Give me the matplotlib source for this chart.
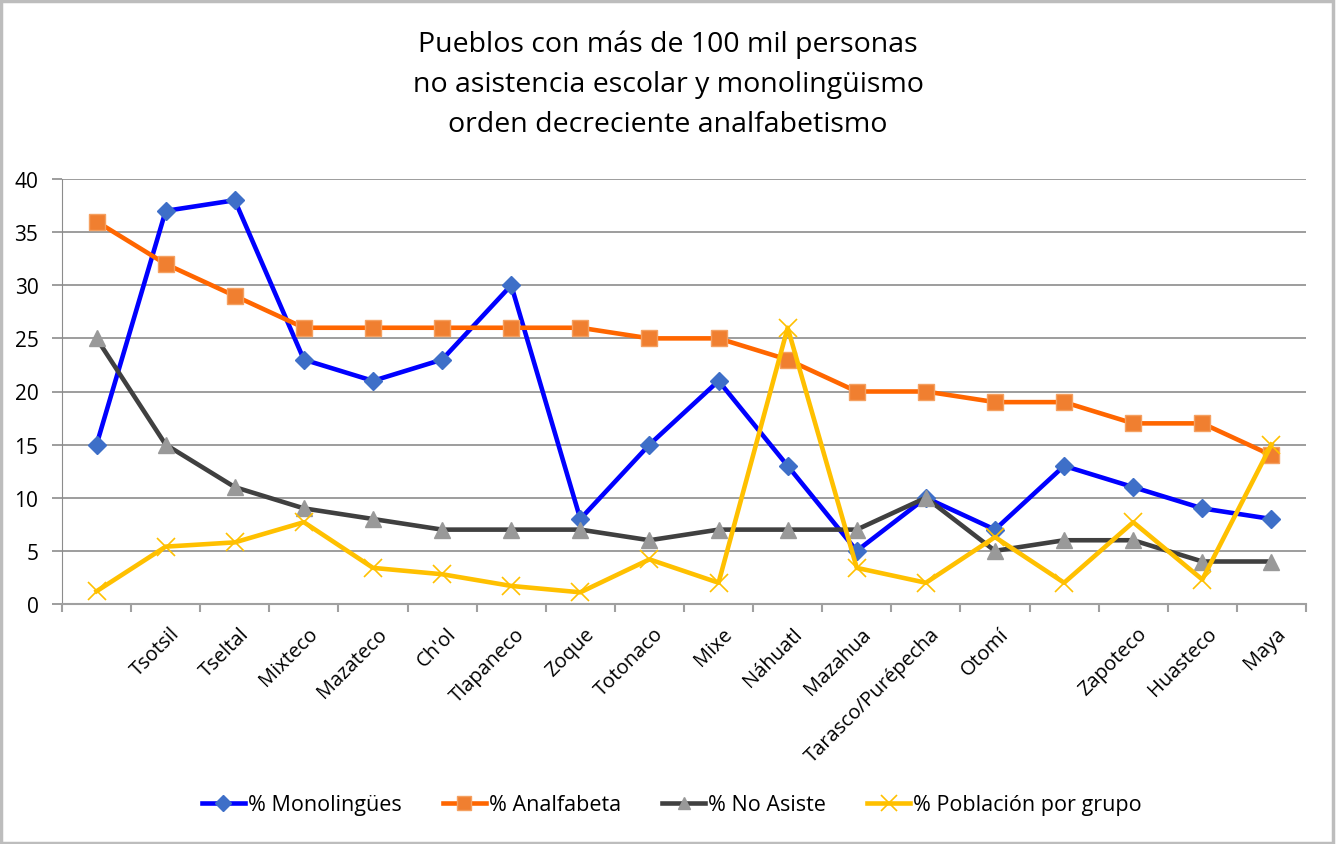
import matplotlib
matplotlib.use("Agg")
import matplotlib.pyplot as plt
import matplotlib.transforms as mtransforms
from matplotlib.patches import Rectangle
from matplotlib.ticker import MultipleLocator, FixedLocator

plt.rcParams['font.family'] = ['Open Sans', 'DejaVu Sans']

categories = ['', 'Tsotsil', 'Tseltal', 'Mixteco', 'Mazateco', "Ch'ol", 'Tlapaneco',
              'Zoque', 'Totonaco', 'Mixe', 'Náhuatl', 'Mazahua', 'Tarasco/Purépecha',
              'Otomí', '', 'Zapoteco', 'Huasteco', 'Maya']
monolingues = [15, 37, 38, 23, 21, 23, 30, 8, 15, 21, 13, 5, 10, 7, 13, 11, 9, 8]
analfabeta = [36, 32, 29, 26, 26, 26, 26, 26, 25, 25, 23, 20, 20, 19, 19, 17, 17, 14]
no_asiste = [25, 15, 11, 9, 8, 7, 7, 7, 6, 7, 7, 7, 10, 5, 6, 6, 4, 4]
poblacion = [1.2, 5.4, 5.8, 7.7, 3.4, 2.8, 1.7, 1.1, 4.2, 2.0, 26, 3.4, 2.0, 6.3, 2.0, 7.7, 2.3, 15]
series_names = ['% Monolingües', '% Analfabeta', '% No Asiste', '% Población por grupo']
title_lines = ['Pueblos con más de 100 mil personas',
               'no asistencia escolar y monolingüismo',
               'orden decreciente analfabetismo']

W, H = 1337, 845
fig = plt.figure(figsize=(W / 100, H / 100), dpi=100)
ax = fig.add_axes([62 / W, 1 - 605 / H, (1306 - 62) / W, (605 - 180) / H])

x = list(range(len(categories)))
ax.plot(x, monolingues, color='#0000FF', lw=3.3, marker='D', ms=9,
        mfc='#3E6FC8', mec='#3E6FC8', label=series_names[0], zorder=3)
ax.plot(x, analfabeta, color='#FF6600', lw=3.3, marker='s', ms=12,
        mfc='#F07F30', mec='#F5A060', mew=1, label=series_names[1], zorder=4)
ax.plot(x, no_asiste, color='#404040', lw=3.3, marker='^', ms=11,
        mfc='#999999', mec='#999999', label=series_names[2], zorder=5)
ax.plot(x, poblacion, color='#FFC000', lw=3.3, marker='x', ms=13,
        mec='#FFC000', mew=1.2, label=series_names[3], zorder=6)

ax.set_xlim(-0.5, len(categories) - 0.5)
ax.set_ylim(0, 40)
ax.yaxis.set_major_locator(MultipleLocator(5))
ax.grid(axis='y', color='#8C8C8C', lw=1.2)
ax.set_axisbelow(True)

ax.set_xticks(x)
ax.set_xticklabels(categories, rotation=45, ha='right', va='top',
                   rotation_mode='anchor', fontsize=14.5)
ax.xaxis.set_minor_locator(FixedLocator([i - 0.5 for i in range(len(categories) + 1)]))
ax.tick_params(axis='x', which='major', length=0, pad=14)
ax.tick_params(axis='x', which='minor', length=6, width=1.5, color='#A0A0A0', direction='out')
ax.tick_params(axis='y', length=7, width=1.2, color='#8C8C8C', labelsize=15, pad=10)

for s in ['top', 'right']:
    ax.spines[s].set_visible(False)
ax.spines['left'].set_color('#8C8C8C')
ax.spines['bottom'].set_color('#A0A0A0')
ax.spines['bottom'].set_linewidth(1.5)

offset = mtransforms.ScaledTranslation(4 / 100, 0, fig.dpi_scale_trans)
for lab in ax.get_xticklabels():
    lab.set_transform(lab.get_transform() + offset)

for i, line in enumerate(title_lines):
    fig.text(668 / W, 1 - (45 + 40 * i) / H, line, ha='center', va='center', fontsize=20.5)

leg = fig.legend(loc='center', bbox_to_anchor=(672 / W, 1 - 806 / H), ncol=4,
                 frameon=False, fontsize=15.5, handlelength=2.0, columnspacing=1.9,
                 handletextpad=0.15, markerscale=0.85)

fig.add_artist(Rectangle((1 / W, 1 / H), (W - 5) / W, (H - 3) / H, transform=fig.transFigure,
                         fill=False, edgecolor='#BDBDBD', lw=2.5))

fig.savefig('out.png', dpi=100)
